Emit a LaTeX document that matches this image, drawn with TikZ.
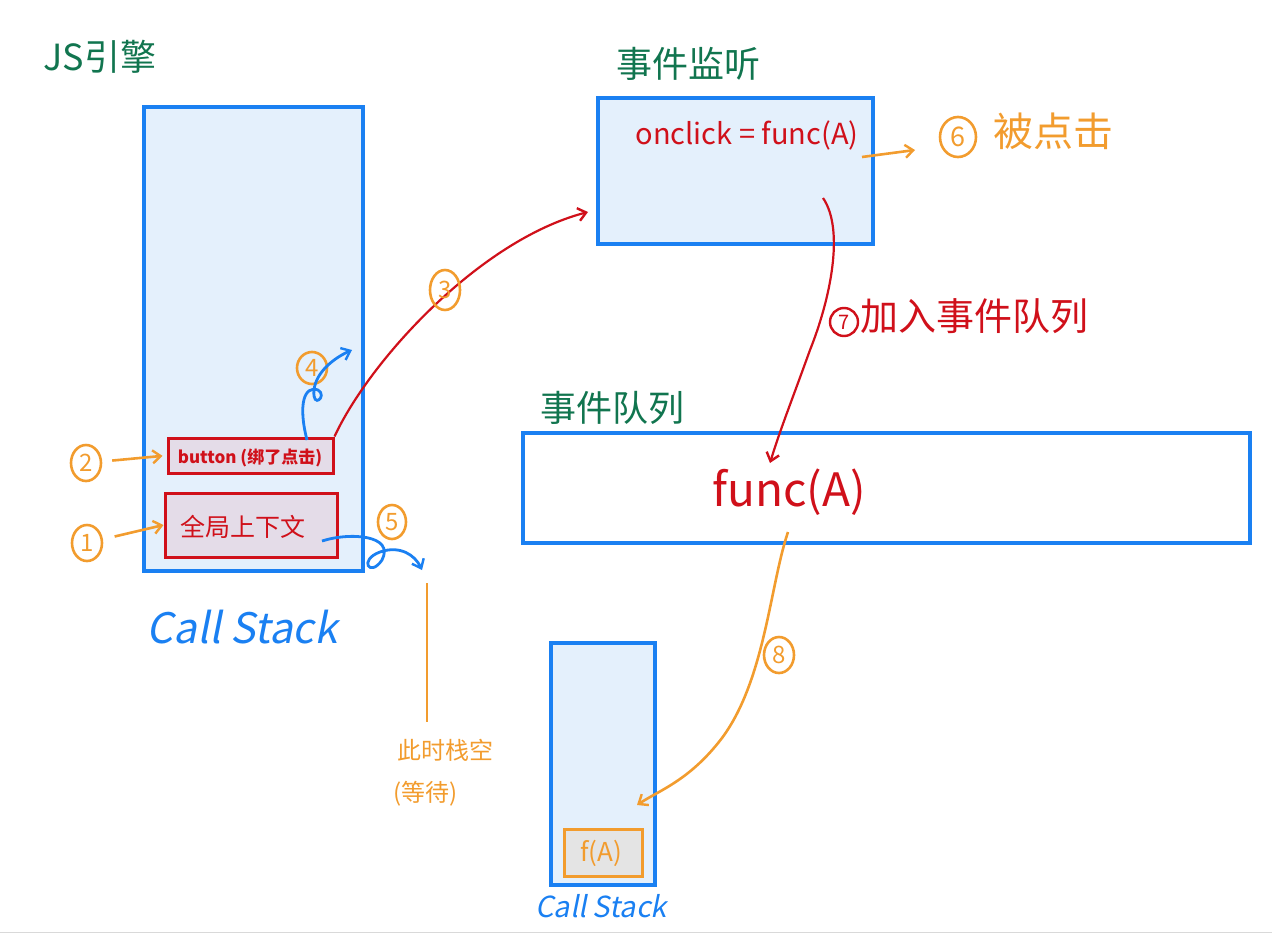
\documentclass[tikz,border=0pt]{standalone}
\usepackage{fontspec}
\setmainfont{Noto Sans CJK SC}
\newfontfamily\slantfont[FakeSlant=0.2]{Noto Sans CJK SC}
\usetikzlibrary{arrows.meta,shapes.geometric}
\definecolor{cblue}{HTML}{1A80F2}
\definecolor{cfill}{HTML}{E4F0FC}
\definecolor{cred}{HTML}{D0101A}
\definecolor{cpur}{HTML}{E4DCE8}
\definecolor{corange}{HTML}{F29C2E}
\definecolor{cgreen}{HTML}{11754F}
\definecolor{cgray}{HTML}{E4E4E4}
\newcommand\myfs[1]{\fontsize{#1}{#1}\selectfont}
\begin{document}
\begin{tikzpicture}[x=1pt,y=-1pt,
  bluebox/.style={draw=cblue,line width=3.2pt,fill=cfill,inner sep=0pt},
  redbox/.style={draw=cred,line width=3pt,fill=cpur,inner sep=0pt},
  numc/.style={draw=corange,text=corange,ellipse,line width=2.6pt,inner sep=1pt,minimum width=30pt,minimum height=36pt,font=\myfs{24}},
  tip/.style={-{Straight Barb[length=8pt,width=13pt,line width=2.4pt]}},
  oline/.style={draw=corange,line width=2.6pt},
  bline/.style={draw=cblue,line width=2.8pt},
  rline/.style={draw=cred,line width=2.2pt},
  title/.style={text=cgreen,font=\myfs{36}}
]
\useasboundingbox (0,0) rectangle (1272,934);
\draw[draw=black!15,line width=0.8pt] (0,932) -- (1272,932);

% JS engine
\node[title] (jst) at (100,57) {JS引擎};
\node[bluebox,minimum width=219pt,minimum height=464pt] (cs) at (253.5,339) {};
\node[redbox,minimum width=165pt,minimum height=35pt] (btn) at (250.5,455.5) {};
\node[text=cred,font=\bfseries\myfs{17}] (btnt) at (250,458) {button (绑了点击)};
\node[redbox,minimum width=172pt,minimum height=64pt] (cg) at (251,525) {};
\node[text=cred,font=\myfs{25}] (cgt) at (243,527) {全局上下文};
\node[text=cblue,font=\slantfont\myfs{42}] (cst) at (242,627) {Call Stack};

\node[numc] (c1) at (87,543) {1};
\node[numc] (c2) at (86,463) {2};
\draw[oline,tip,shorten <=12pt] (c1) -- (cg.west);
\draw[oline,tip,shorten <=10pt,shorten >=4pt] (c2) -- (btn.west);

% 4
\node[numc,minimum width=30pt,minimum height=32pt] (c4) at (312,368) {4};
\coordinate (b4) at (307,440);
\coordinate (e4) at (352,350);
\draw[bline,tip] (b4) .. controls (298,405) and (304,385) .. (318,390)
  .. controls (328,396) and (312,410) .. (314,390)
  .. controls (316,372) and (334,358) .. (e4);

% event listener
\node[title] (lst) at (688,64) {事件监听};
\node[bluebox,minimum width=275pt,minimum height=146pt] (ls) at (735.5,171) {};
\node[text=cred,font=\myfs{29}] (onc) at (747,135) {onclick = func(A)};
\coordinate (e3) at (588,212);
\draw[rline,tip] (btn.north east) .. controls (370,360) and (480,240) .. (e3);
\node[numc,minimum height=40pt] (c3) at (445,290) {3};

% 6
\coordinate (s6) at (862,157);
\node[numc,minimum width=36pt,minimum height=40pt,font=\myfs{27}] (c6) at (958,137) {6};
\node[text=corange,font=\myfs{40},anchor=west] (bd) at (990,131) {被点击};
\draw[oline,tip] (s6) -- (915,150);

% event queue
\node[title] (qt) at (612,408) {事件队列};
\node[draw=cblue,line width=3.2pt,fill=white,minimum width=727pt,minimum height=110pt,inner sep=0pt] (q) at (886.5,488) {};
\node[text=cred,font=\myfs{46}] (qf) at (789,492) {func(A)};

% 7
\coordinate (s7) at (823,198);
\coordinate (e7) at (770,463);
\draw[rline,tip] (s7) .. controls (845,230) and (830,300) .. (810,350)
  .. controls (792,400) and (780,430) .. (e7);
\node[draw=cred,text=cred,circle,line width=2.4pt,inner sep=1pt,minimum size=28pt,font=\myfs{20}] (c7) at (844,322) {7};
\node[text=cred,font=\myfs{38},anchor=west] (jr) at (857,316) {加入事件队列};

% 5
\node[numc,minimum width=28pt,minimum height=34pt] (c5) at (392,522) {5};
\coordinate (s5) at (322,541);
\coordinate (e5) at (422,570);
\draw[bline,tip] (s5) .. controls (350,532) and (395,535) .. (382,560)
  .. controls (370,578) and (358,560) .. (380,552)
  .. controls (400,545) and (415,555) .. (e5);
\coordinate (v1) at (427,583);
\coordinate (v2) at (427,722);
\draw[oline] (v1) -- (v2);
\node[text=corange,font=\myfs{24},anchor=west] (kz) at (394,750) {此时栈空};
\node[text=corange,font=\myfs{24},anchor=west] (dd) at (390,794) {(等待)};

% small call stack
\node[bluebox,minimum width=104pt,minimum height=242pt] (cs2) at (603,764) {};
\node[draw=corange,line width=3pt,fill=cgray,minimum width=78pt,minimum height=47pt,inner sep=0pt] (fa) at (603,852.5) {};
\node[text=corange,font=\myfs{26}] (fat) at (601,853) {f(A)};
\node[text=cblue,font=\slantfont\myfs{29}] (cs2t) at (601,906) {Call Stack};

% 8
\coordinate (s8) at (788,532);
\coordinate (e8) at (637,805);
\draw[oline,tip] (s8) .. controls (770,585) and (765,680) .. (722,738)
  .. controls (690,780) and (660,790) .. (e8);
\node[numc] (c8) at (779,655) {8};
\end{tikzpicture}
\end{document}
